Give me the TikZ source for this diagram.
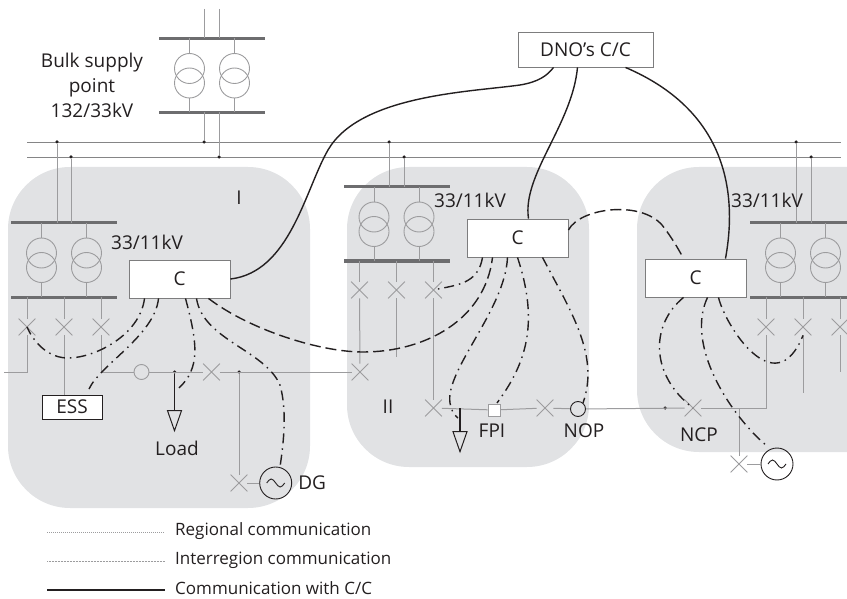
\documentclass[tikz,border=0pt]{standalone}
\usepackage{fontspec}
\setmainfont{Open Sans}
\usetikzlibrary{positioning, shapes.misc, shapes.geometric, calc}
\definecolor{regiongray}{HTML}{E1E2E4}
\definecolor{wiregray}{HTML}{9C9C9E}
\definecolor{inkdark}{HTML}{231F20}
\tikzset{
  regionbox/.style={fill=regiongray, rounded corners=62pt},
  busline/.style={draw=wiregray!85!black, line width=0.9pt},
  feeder/.style={draw=wiregray, line width=1pt},
  tapline/.style={draw=inkdark, line width=1.3pt},
  busbar/.style={fill=wiregray!70!black, minimum width=106pt, minimum height=3pt, inner sep=0pt, outer sep=0pt},
  coil/.style={circle, draw=wiregray, line width=0.9pt, minimum size=30pt, inner sep=0pt},
  brk/.style={cross out, draw=wiregray, line width=0.8pt, minimum size=16pt, inner sep=0pt},
  tapdot/.style={circle, fill=inkdark, minimum size=3.5pt, inner sep=0pt},
  ctrl/.style={draw=wiregray!80!black, fill=white, line width=0.9pt, minimum width=101pt, minimum height=38pt, font=\fontsize{19pt}{22pt}\selectfont, text=inkdark, inner sep=0pt},
  gensrc/.style={circle, draw=inkdark, line width=0.9pt, minimum size=32pt, inner sep=0pt},
  ringpt/.style={circle, draw=inkdark, line width=0.9pt, minimum size=15pt, inner sep=0pt},
  loadtip/.style={isosceles triangle, isosceles triangle stretches, shape border rotate=-90, draw=inkdark, line width=1pt, minimum width=14pt, minimum height=20pt, inner sep=0pt},
  lbl/.style={font=\fontsize{19pt}{25pt}\selectfont, text=inkdark, inner sep=0pt, align=center},
  keylbl/.style={font=\fontsize{17pt}{20pt}\selectfont, text=inkdark, inner sep=0pt, anchor=west},
  cclink/.style={draw=inkdark, line width=1.4pt},
  regional/.style={draw=inkdark, line width=1.4pt, dash pattern=on 10pt off 5pt on 1.5pt off 5pt},
  interreg/.style={draw=inkdark, line width=1.4pt, dash pattern=on 11pt off 5pt},
}
% transformer pair between two bars
\newcommand{\xfmrpair}[3]{%
  \node[busbar] (#1top) at (#2,#3) {};
  \node[busbar] (#1bot) at (#2,#3+74) {};
  \foreach \off in {-22.5,22.5} {
    \node[coil] (c) at (#2+\off,#3+30) {};
    \node[coil] (d) at (#2+\off,#3+44.5) {};
    \draw[feeder] (#2+\off,#3) -- (c.north);
    \draw[feeder] (d.south) -- (#2+\off,#3+74);
  }
}
% three breakers under the lower bar
\newcommand{\brkrow}[3]{%
  \node[brk] (#1a) at (#2-37,#3+104) {};
  \node[brk] (#1b) at (#2,#3+104) {};
  \node[brk] (#1c) at (#2+37,#3+104) {};
  \draw[feeder] (#1a |- #1bot) -- (#1a);
  \draw[feeder] (#1b |- #1bot) -- (#1b);
  \draw[feeder] (#1c |- #1bot) -- (#1c);
}
\begin{document}
\begin{tikzpicture}[x=1pt, y=-1pt]
  \useasboundingbox (0,0) rectangle (847,599);
  \clip (0,0) rectangle (847,599);

  % regions
  \fill[regionbox] (8,167) rectangle (310,508);
  \fill[regionbox] (347,167) rectangle (589,467);
  \fill[regionbox] (637,167) rectangle (930,452);

  % 33kV lines
  \coordinate (busAw) at (27,142);
  \coordinate (busAe) at (841,142);
  \coordinate (busBw) at (27,157);
  \coordinate (busBe) at (841,157);
  \draw[busline] (busAw) -- (busAe);
  \draw[busline] (busBw) -- (busBe);

  % substations
  \xfmrpair{bsp}{212}{38.5}
  \xfmrpair{subI}{64}{223}
  \xfmrpair{subII}{396.5}{187}
  \xfmrpair{subIII}{803}{223}
  \brkrow{subI}{64}{223}
  \brkrow{subII}{396.5}{186}
  \brkrow{subIII}{803}{223}

  \coordinate (inA) at (204,9);
  \coordinate (inB) at (219,9);
  \node[tapdot] (dA) at (204,142) {};
  \node[tapdot] (dB) at (219,157) {};
  \node[tapdot] (dC) at (57,142) {};
  \node[tapdot] (dD) at (71,157) {};
  \node[tapdot] (dE) at (389,142) {};
  \node[tapdot] (dF) at (404,157) {};
  \node[tapdot] (dG) at (796,142) {};
  \node[tapdot] (dH) at (811,157) {};
  \draw[feeder] (inA) -- (inA |- bsptop);
  \draw[feeder] (inB) -- (inB |- bsptop);
  \draw[feeder] (dA |- bspbot) -- (dA);
  \draw[feeder] (dB |- bspbot) -- (dB);
  \draw[feeder] (dC) -- (dC |- subItop);
  \draw[feeder] (dD) -- (dD |- subItop);
  \draw[feeder] (dE) -- (dE |- subIItop);
  \draw[feeder] (dF) -- (dF |- subIItop);
  \draw[feeder] (dG) -- (dG |- subIIItop);
  \draw[feeder] (dH) -- (dH |- subIIItop);

  % region I network
  \node[draw=inkdark, fill=white, line width=1pt, minimum width=60pt, minimum height=24pt, inner sep=0pt, font=\fontsize{19pt}{22pt}\selectfont, text=inkdark] (ess) at (72,407) {ESS};
  \node[circle, draw=wiregray, line width=0.9pt, minimum size=15pt, inner sep=0pt] (ringI) at (141.5,372) {};
  \node[brk] (brkI) at (211.5,372) {};
  \node[brk] (tieI) at (360,372) {};
  \node[tapdot] (loadI) at (174.5,372) {};
  \node[loadtip, anchor=apex] (tipI) at (174.5,432) {};
  \node[tapdot] (dgtap) at (239,372) {};
  \node[brk] (dgbrk) at (239,483) {};
  \node[gensrc] (dg) at (275.7,483) {};
  \coordinate (westend) at (4,372);
  \draw[feeder] (subIa) |- (westend);
  \draw[feeder] (subIb) -- (subIb |- ess.north);
  \draw[feeder] (subIc) |- (ringI);
  \draw[feeder] (ringI) -- (brkI);
  \draw[feeder] (brkI) -- (tieI);
  \draw[tapline] (loadI) -- (tipI.lower side);
  \draw[feeder] (dgtap) -- (dgbrk);
  \draw[feeder] (dgbrk) -- (dg);
  \draw[draw=inkdark, line width=0.9pt] ([xshift=-9pt]dg.center) sin ++(4.5,-4) cos ++(4.5,4) sin ++(4.5,4) cos ++(4.5,-4);

  % region II network
  \node[brk] (brkIIk) at (433.5,408) {};
  \coordinate (loadII) at (460,408);
  \node[loadtip, anchor=apex] (tipII) at (460,453) {};
  \node[draw=wiregray, fill=white, line width=0.9pt, minimum size=12pt, inner sep=0pt] (fpi) at (494,410) {};
  \node[brk] (brkIIm) at (545,408) {};
  \node[ringpt] (nop) at (578,409) {};
  \coordinate (subIIbend) at (396.5,357);
  \draw[feeder] (subIIa) -- (tieI);
  \draw[feeder] (subIIb) -- (subIIbend);
  \draw[feeder] (subIIc) -- (brkIIk);
  \draw[feeder] (brkIIk) -- (fpi);
  \draw[feeder] (fpi) -- (brkIIm);
  \draw[feeder] (brkIIm) -- (nop);
  \draw[tapline] (loadII) -- (tipII.lower side);

  % region III network
  \node[brk] (ncp) at (693,408) {};
  \node[tapdot] (ncpdot) at (665,408) {};
  \coordinate (gentap) at (739,408);
  \node[brk] (genbrk) at (739,464) {};
  \node[gensrc] (gen) at (777,464) {};
  \coordinate (subIIIbend) at (803,393);
  \coordinate (subIIIcend) at (840,372);
  \draw[feeder] (nop) -- (ncp);
  \draw[feeder] (subIIIa) |- (ncp);
  \draw[feeder] (subIIIb) -- (subIIIbend);
  \draw[feeder] (subIIIc) -- (subIIIcend);
  \draw[feeder] (gentap) -- (genbrk);
  \draw[feeder] (genbrk) -- (gen);
  \draw[draw=inkdark, line width=0.9pt] ([xshift=-9pt]gen.center) sin ++(4.5,-4) cos ++(4.5,4) sin ++(4.5,4) cos ++(4.5,-4);

  % controllers
  \node[ctrl] (ctrlI) at (179.5,279) {C};
  \node[ctrl] (ctrlII) at (517.5,238) {C};
  \node[ctrl] (ctrlIII) at (695.5,278) {C};
  \node[ctrl, minimum width=135pt, minimum height=35pt] (dno) at (585.5,49.5) {DNO’s C/C};

  % links to C/C
  \draw[cclink] (ctrlI.east) .. controls (290,272) and (305,190) .. (328,150)
     .. controls (360,95) and (470,92) .. (520,85)
     .. controls (538,82) and (547,76) .. ([xshift=-32pt]dno.south);
  \draw[cclink] ([xshift=11pt]ctrlII.north) .. controls (522,175) and (572,125) .. ([xshift=-8pt]dno.south);
  \draw[cclink] ([xshift=30pt]ctrlIII.north) .. controls (738,190) and (725,110) .. ([xshift=40pt]dno.south);

  % interregion links
  \draw[interreg] ([xshift=29pt]ctrlI.south) .. controls (250,330) and (320,352) .. (363,352)
     .. controls (425,352) and (485,320) .. ([xshift=-25pt]ctrlII.south);
  \draw[interreg] ([yshift=8pt]ctrlII.east) .. controls (580,208) and (640,200) .. (662,225)
     .. controls (670,235) and (678,248) .. ([xshift=-12pt]ctrlIII.north);

  % regional links
  \draw[regional] ([xshift=-35pt]ctrlI.south) .. controls (140,335) and (95,358) .. (68,358)
     .. controls (50,358) and (35,345) .. (subIa.center);
  \draw[regional] ([xshift=-21pt]ctrlI.south) .. controls (155,335) and (100,365) .. (89,389);
  \draw[regional] ([xshift=6pt]ctrlI.south) .. controls (198,345) and (200,368) .. (179,388);
  \draw[regional] ([xshift=17pt]ctrlI.south) .. controls (203,340) and (265,350) .. (280,385)
     .. controls (287,410) and (284,440) .. (280,467);
  \draw[regional] ([xshift=-35pt]ctrlII.south) .. controls (478,285) and (455,285) .. (subIIc.center);
  \draw[regional] ([xshift=-10pt]ctrlII.south) .. controls (505,310) and (445,370) .. (450,403)
     .. controls (451,410) and (454,415) .. (458,418);
  \draw[regional] (ctrlII.south) .. controls (540,325) and (525,365) .. (497,403);
  \draw[regional] ([xshift=25pt]ctrlII.south) .. controls (570,310) and (600,355) .. (583,403);
  \draw[regional] ([xshift=-12pt]ctrlIII.south) .. controls (650,325) and (650,375) .. (ncp.center);
  \draw[regional] ([xshift=12pt]ctrlIII.south) .. controls (685,345) and (730,415) .. (767,446);
  \draw[regional] ([xshift=23pt]ctrlIII.south) .. controls (725,325) and (775,405) .. (subIIIb.south);

  % labels
  \node[lbl] (bsplbl) at (92,85) {Bulk supply\\point\\132/33kV};
  \node[lbl] (volI) at (147,242) {33/11kV};
  \node[lbl] (volII) at (470,200) {33/11kV};
  \node[lbl] (volIII) at (767,200) {33/11kV};
  \node[lbl] (nameI) at (239,198) {I};
  \node[lbl] (nameII) at (388,407) {II};
  \node[lbl] (loadlbl) at (177,448) {Load};
  \node[lbl, right=6pt of dg] (dglbl) {DG};
  \node[lbl] (fpilbl) at (492,431) {FPI};
  \node[lbl] (noplbl) at (584,431) {NOP};
  \node[lbl] (ncplbl) at (699,435) {NCP};

  % legend
  \coordinate (keyA) at (47,532);
  \coordinate (keyB) at (47,561);
  \coordinate (keyC) at (47,590);
  \node[keylbl] (txtA) at (175,531) {Regional communication};
  \node[keylbl] (txtB) at (175,560) {Interregion communication};
  \node[keylbl] (txtC) at (175,588) {Communication with C/C};
  \coordinate (keyAe) at (165,532);
  \coordinate (keyBe) at (165,561);
  \coordinate (keyCe) at (165,590);
  \draw[wiregray, line width=0.6pt, dash pattern=on 1pt off 1pt] (keyA) -- (keyAe);
  \draw[wiregray, line width=0.5pt, dash pattern=on 1pt off 0.5pt] (keyB) -- (keyBe);
  \draw[cclink] (keyC) -- (keyCe);
\end{tikzpicture}
\end{document}
